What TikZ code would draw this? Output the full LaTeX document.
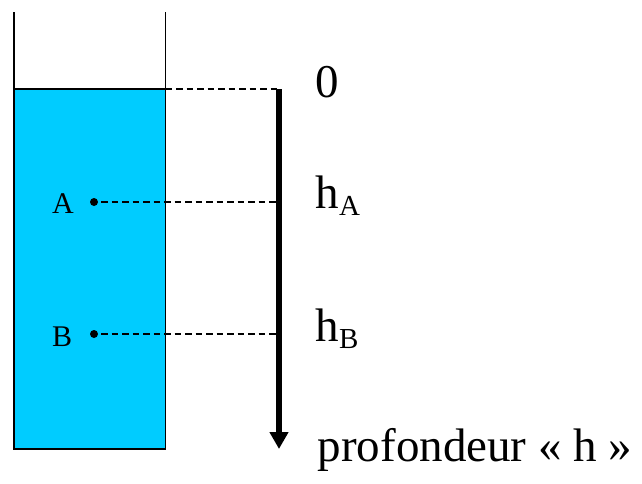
\documentclass[tikz,border=0pt]{standalone}
\usepackage{fontspec}
\setmainfont{Liberation Serif}
\usetikzlibrary{arrows.meta}
\definecolor{water}{HTML}{00CCFF}
\newcommand{\bigtxt}{\fontsize{47}{47}\selectfont}
\newcommand{\subtxt}[1]{\raisebox{-7pt}{\fontsize{29}{29}\selectfont #1}}
\begin{document}
\begin{tikzpicture}[x=1pt,y=-1pt,
  wall/.style={line width=1.4pt,black},
  guide/.style={line width=1.5pt,dash pattern=on 6.5pt off 4pt},
  axis/.style={line width=6pt,-{Triangle[width=18pt,length=17pt]}},
  pointdot/.style={circle,fill=black,inner sep=0pt,minimum size=8pt},
  lab/.style={inner sep=0pt,anchor=base west,font=\fontsize{30}{30}\selectfont},
  axlab/.style={inner sep=0pt,anchor=base west,font=\bigtxt}]
\useasboundingbox (0,0) rectangle (642,483);
% water
\fill[water] (14,89) rectangle (165.5,449);
% container walls
\draw[wall] (14,12) -- (14,449) -- (165.5,449) -- (165.5,12);
\draw[line width=2pt] (14,89) -- (165.5,89);
% axis
\coordinate (z0) at (279,89);
\coordinate (zA) at (279,202);
\coordinate (zB) at (279,334);
\coordinate (zend) at (279,449);
\draw[axis] (z0) -- (zend);
% points
\node[pointdot] (A) at (94,202) {};
\node[pointdot] (B) at (94,334) {};
\node[lab] (labA) at (52,213) {A};
\node[lab] (labB) at (52,346.5) {B};
% dashed guides
\coordinate (surf) at (165.5,89);
\draw[guide] (surf) -- (z0);
\draw[guide] (A.east) ++(3,0) -- (zA);
\draw[guide] (B.east) ++(3,0) -- (zB);
% axis labels
\node[axlab] (l0) at (315.5,97) {0};
\node[axlab] (lA) at (315.5,208) {h\subtxt{A}};
\node[axlab] (lB) at (315.5,341.7) {h\subtxt{B}};
\node[axlab] (lh) at (317.5,461.5) {profondeur « h »};
\end{tikzpicture}
\end{document}
